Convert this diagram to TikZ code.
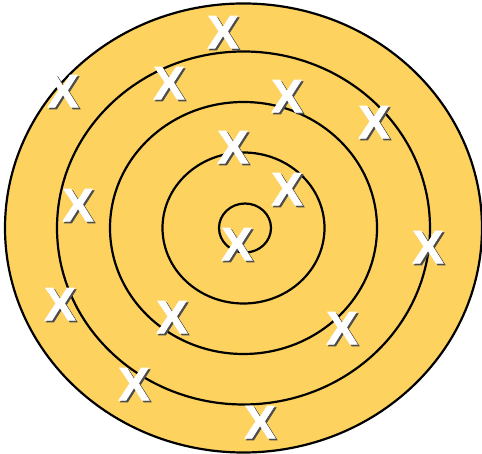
\documentclass[tikz,border=0pt]{standalone}
\usepackage{fontspec}
\setmainfont{Liberation Sans}
\newfontfamily\xfont{Liberation Sans}[FakeBold=1.5]
\usepackage{tikz}
\usetikzlibrary{positioning}
\usepackage{xcolor}
\definecolor{target}{RGB}{253,210,94}
\newcommand{\shadowx}{\makebox[0pt][l]{\hspace{1.8pt}\raisebox{-1.6pt}{\textcolor{black!70}{X}}}X}

\begin{document}
\begin{tikzpicture}[x=1pt, y=1pt,
          ring/.style={draw=black,line width=2.2pt},
          hit/.style={text=white,inner sep=0pt,font=\fontsize{47}{47}\selectfont\xfont\bfseries}
      ]
        \useasboundingbox (0,0) rectangle (482,454);
        \coordinate (c) at (243.5,226);
        \draw[ring,fill=target] (c) ellipse [x radius=238.5, y radius=224.5];
        \draw[ring] (c) ellipse [x radius=186.5, y radius=176.5];
        \draw[ring] (c) ellipse [x radius=133.5, y radius=126];
        \draw[ring] (c) ellipse [x radius=81, y radius=75.5];
        \draw[ring] (245,226) ellipse [x radius=26, y radius=24.5];
        \foreach \n/\px/\py in {1/223/33, 2/63/92, 3/169/84, 4/287/97, 5/374/123,
                                6/233/148, 7/287/190, 8/78/206, 9/237/245, 10/428/248,
                                11/60/305, 12/172/318, 13/342/329, 14/134/385, 15/260/423}{
          \node[hit] (x\n) at ({\px},{454-\py}) {\shadowx};
        }
      \end{tikzpicture}
\end{document}
